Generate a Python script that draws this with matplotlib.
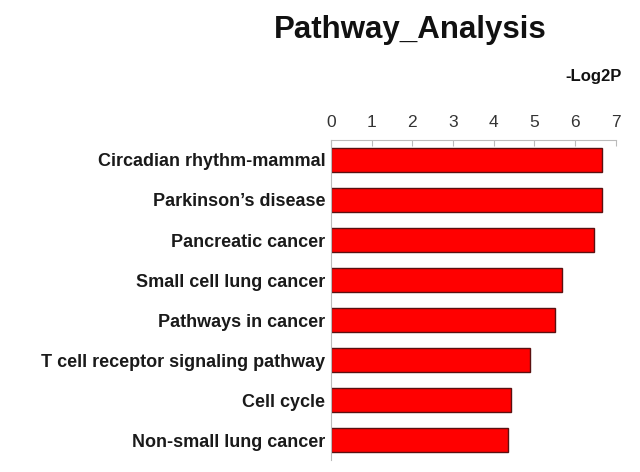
import numpy as np
import matplotlib
matplotlib.use('Agg')
import matplotlib.pyplot as plt

# ---- data ----
pathways = ['Circadian rhythm-mammal', "Parkinson\u2019s disease", 'Pancreatic cancer',
            'Small cell lung cancer', 'Pathways in cancer',
            'T cell receptor signaling pathway', 'Cell cycle', 'Non-small lung cancer']
log2p = [6.67, 6.67, 6.47, 5.67, 5.50, 4.90, 4.42, 4.36]
xticks = [0, 1, 2, 3, 4, 5, 6, 7]

plt.rcParams['font.family'] = ['Liberation Sans', 'DejaVu Sans']

fig = plt.figure(figsize=(6.4, 4.72), dpi=100)
ax = fig.add_axes([0.517, 0.0254, 0.4453, 0.678])

y = np.arange(len(pathways))
ax.barh(y, log2p, height=0.6, color='#ff0000', edgecolor='#5a1010', linewidth=1.0)

ax.set_xlim(0, 7)
ax.set_ylim(len(pathways) - 0.5, -0.5)
ax.set_xticks(xticks)
ax.xaxis.tick_top()
ax.tick_params(axis='x', direction='in', length=4, color='#bbbbbb', labelsize=12.5,
               labelcolor='#333333', pad=7)
ax.set_yticks(y)
ax.set_yticklabels(pathways, fontweight='bold', fontsize=13, color='#1a1a1a')
ax.tick_params(axis='y', length=0, pad=4)

for s in ['right', 'bottom']:
    ax.spines[s].set_visible(False)
ax.spines['top'].set_color('#bbbbbb')
ax.spines['left'].set_color('#bbbbbb')

fig.text(0.641, 0.936, 'Pathway_Analysis', ha='center', va='center',
         fontsize=22.5, fontweight='bold', color='#111111')
fig.text(0.972, 0.837, '-Log2P', ha='right', va='center',
         fontsize=12, fontweight='bold', color='#111111')

fig.savefig('out.png', dpi=100)
